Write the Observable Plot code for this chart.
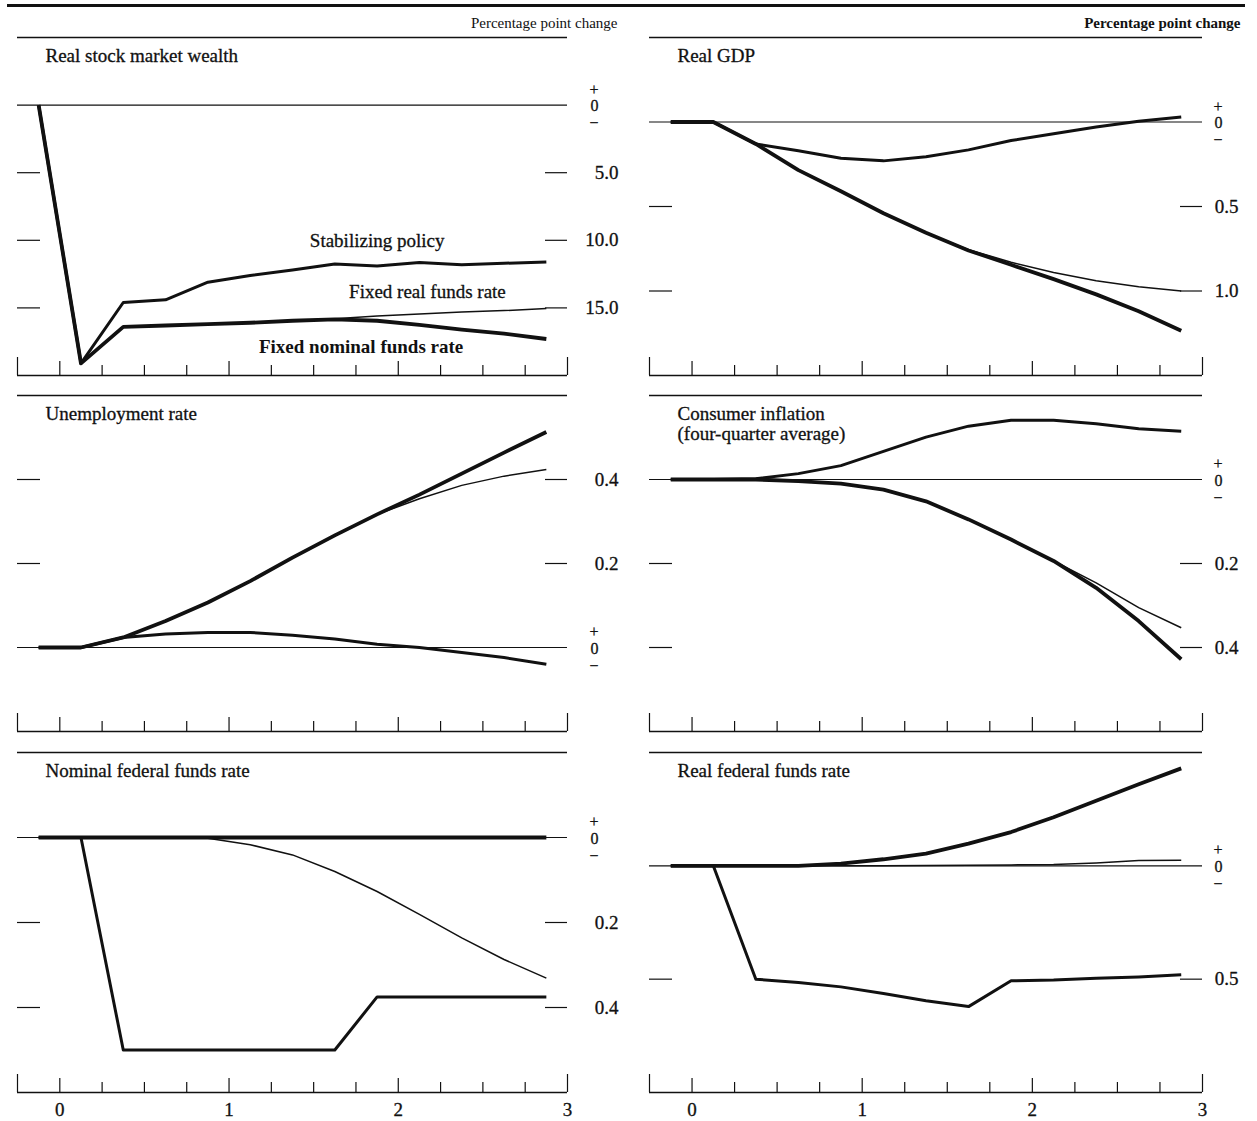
<!DOCTYPE html>
<html>
<head>
<meta charset="utf-8">
<script src="https://cdn.jsdelivr.net/npm/d3@7"></script>
<script src="https://cdn.jsdelivr.net/npm/@observablehq/plot@0.6"></script>
<style>
  html, body { margin: 0; padding: 0; background: #fff; }
  #chart { position: relative; width: 1257px; height: 1121px; background: #fff; overflow: hidden;
           font-family: "Liberation Serif", "Times New Roman", serif; }
  #chart .panel { position: absolute; }
  #chart svg { overflow: visible; display: block; }
  #toprule { position: absolute; left: 7px; top: 4px; width: 1238px; height: 3px; background: #111; }
</style>
</head>
<body>
<div id="chart"><div id="toprule"></div></div>
<script>
// ---------- data (years after shock, quarterly midpoints) ----------
const quarters = [-0.125, 0.125, 0.375, 0.625, 0.875, 1.125, 1.375, 1.625, 1.875, 2.125, 2.375, 2.625, 2.875];
const quarterTicks = [0.25, 0.5, 0.75, 1.25, 1.5, 1.75, 2.25, 2.5, 2.75];
const yearTicks = [0, 1, 2];
const endTicks = [-0.25, 3];
const yearLabels = [0, 1, 2, 3];
const seriesNames = ["Stabilizing policy", "Fixed real funds rate", "Fixed nominal funds rate"];

// Real stock market wealth
const stockStabilizing = [0, -19.1, -14.6, -14.4, -13.1, -12.6, -12.2, -11.75, -11.9, -11.65, -11.8, -11.7, -11.6];
const stockFixedReal   = [0, -19.1, -16.4, -16.3, -16.2, -16.1, -15.95, -15.8, -15.6, -15.45, -15.3, -15.2, -15.05];
const stockFixedNominal= [0, -19.1, -16.4, -16.3, -16.2, -16.1, -15.95, -15.85, -15.95, -16.25, -16.6, -16.9, -17.3];

// Real GDP
const gdpStabilizing = [0, 0, -0.13, -0.17, -0.215, -0.23, -0.205, -0.165, -0.11, -0.07, -0.03, 0.005, 0.03];
const gdpFixedReal   = [0, 0, -0.13, -0.285, -0.41, -0.54, -0.655, -0.755, -0.83, -0.89, -0.94, -0.975, -1.0];
const gdpFixedNominal= [0, 0, -0.13, -0.285, -0.41, -0.54, -0.655, -0.76, -0.845, -0.93, -1.02, -1.12, -1.235];

// Unemployment rate
const unempStabilizing = [0, 0, 0.024, 0.032, 0.036, 0.036, 0.029, 0.02, 0.008, 0, -0.012, -0.024, -0.04];
const unempFixedReal   = [0, 0, 0.024, 0.063, 0.107, 0.158, 0.214, 0.267, 0.317, 0.354, 0.386, 0.408, 0.424];
const unempFixedNominal= [0, 0, 0.024, 0.063, 0.107, 0.158, 0.214, 0.267, 0.317, 0.364, 0.414, 0.464, 0.513];

// Consumer inflation (four-quarter average)
const inflStabilizing = [0, 0, 0.002, 0.014, 0.033, 0.067, 0.101, 0.127, 0.141, 0.141, 0.133, 0.121, 0.115];
const inflFixedReal   = [0, 0, 0, -0.004, -0.01, -0.024, -0.052, -0.095, -0.143, -0.194, -0.246, -0.305, -0.353];
const inflFixedNominal= [0, 0, 0, -0.004, -0.01, -0.024, -0.052, -0.095, -0.143, -0.194, -0.258, -0.337, -0.428];

// Nominal federal funds rate
const nomffStabilizing = [0, 0, -0.5, -0.5, -0.5, -0.5, -0.5, -0.5, -0.375, -0.375, -0.375, -0.375, -0.375];
const nomffFixedReal   = [0, 0, 0, 0, -0.002, -0.017, -0.041, -0.08, -0.127, -0.181, -0.236, -0.287, -0.331];
const nomffFixedNominal= [0, 0, 0, 0, 0, 0, 0, 0, 0, 0, 0, 0, 0];

// Real federal funds rate
const realffStabilizing = [0, 0, -0.5, -0.515, -0.534, -0.563, -0.595, -0.621, -0.507, -0.504, -0.496, -0.49, -0.481];
const realffFixedReal   = [0, 0, 0, 0, 0, 0, 0.002, 0.003, 0.004, 0.006, 0.013, 0.023, 0.025];
const realffFixedNominal= [0, 0, 0, 0, 0.01, 0.029, 0.054, 0.098, 0.149, 0.214, 0.287, 0.36, 0.43];

// ---------- panel configuration ----------
const panels = [
  {title: "Real stock market wealth", row: 0, col: 0, domain: [-20, 5], ticks: [-5, -10, -15],
   series: [stockStabilizing, stockFixedReal, stockFixedNominal], annotate: true},
  {title: "Real GDP", row: 0, col: 1, domain: [-1.5, 0.5], ticks: [-0.5, -1.0],
   series: [gdpStabilizing, gdpFixedReal, gdpFixedNominal]},
  {title: "Unemployment rate", row: 1, col: 0, domain: [-0.2, 0.6], ticks: [0.2, 0.4],
   series: [unempStabilizing, unempFixedReal, unempFixedNominal]},
  {title: "Consumer inflation\n(four-quarter average)", row: 1, col: 1, domain: [-0.6, 0.2], ticks: [-0.2, -0.4],
   series: [inflStabilizing, inflFixedReal, inflFixedNominal]},
  {title: "Nominal federal funds rate", row: 2, col: 0, domain: [-0.6, 0.2], ticks: [-0.2, -0.4],
   series: [nomffStabilizing, nomffFixedReal, nomffFixedNominal]},
  {title: "Real federal funds rate", row: 2, col: 1, domain: [-1.0, 0.5], ticks: [-0.5],
   series: [realffStabilizing, realffFixedReal, realffFixedNominal]}
];

const rows = [
  {top: 0,   mt: 37, frame: 338, mb: 5},
  {top: 380, mt: 15, frame: 336, mb: 5},
  {top: 736, mt: 16, frame: 340, mb: 29}
];
const cols = [
  {left: 0,   width: 628, ml: 17, mr: 61, labelDx: 51, zeroDx: 31, unitDx: 50, unitWeight: "normal"},
  {left: 628, width: 629, ml: 21, mr: 55, labelDx: 36, zeroDx: 20, unitDx: 38, unitWeight: "bold"}
];

const ink = "#111";
const widths = [3.0, 1.5, 3.8];   // stabilizing, fixed real, fixed nominal
const fmt = d => Math.abs(d).toFixed(1);
const textInk = {fill: ink, stroke: ink, strokeWidth: 0.3};

const chart = document.getElementById("chart");

for (const p of panels) {
  const R = rows[p.row], C = cols[p.col];
  const fw = C.width - C.ml - C.mr;
  const fh = R.frame;
  const marks = [
    // panel top rule and bottom axis line
    Plot.ruleY([p.domain[1]], {stroke: ink, strokeWidth: 1.6}),
    Plot.ruleY([p.domain[0]], {stroke: ink, strokeWidth: 1.6}),
    // zero line
    Plot.ruleY([0], {stroke: ink, strokeWidth: 1.1}),
    // short y ticks, left and right
    Plot.ruleY(p.ticks, {stroke: ink, strokeWidth: 1.2, insetRight: fw - 23}),
    Plot.ruleY(p.ticks, {stroke: ink, strokeWidth: 1.2, insetLeft: fw - 22}),
    // x ticks pointing up from the bottom axis
    Plot.ruleX(quarterTicks, {stroke: ink, strokeWidth: 1.2, insetTop: fh - 10}),
    Plot.ruleX(yearTicks, {stroke: ink, strokeWidth: 1.2, insetTop: fh - 14}),
    Plot.ruleX(endTicks, {stroke: ink, strokeWidth: 1.2, insetTop: fh - 18}),
    // y tick labels on the right
    Plot.text(p.ticks, {y: d => d, text: fmt, frameAnchor: "right", dx: C.labelDx, textAnchor: "end", ...textInk}),
    // + 0 - marker at zero (one stacked text)
    Plot.text(["+\n0\n\u2212"], {y: () => 0, frameAnchor: "right", dx: C.zeroDx, dy: 1, fontSize: 16, lineHeight: 1.05,
      lineAnchor: "middle", ...textInk}),
    // panel title
    Plot.text([p.title], {frameAnchor: "top-left", dx: 28, dy: 10, textAnchor: "start", lineAnchor: "top",
      lineHeight: 1.05, ...textInk})
  ];
  // lines
  p.series.forEach((vals, k) => {
    marks.push(Plot.line(vals, {x: (d, i) => quarters[i], y: d => d, stroke: ink, strokeWidth: widths[k],
      strokeLinejoin: "round", strokeLinecap: "butt"}));
  });
  if (p.row === 0) {
    marks.push(Plot.text(["Percentage point change"], {frameAnchor: "top-right", dx: C.unitDx, dy: -10,
      textAnchor: "end", lineAnchor: "bottom", fontSize: 15, fontWeight: C.unitWeight, fill: ink}));
  }
  if (p.row === 2) {
    marks.push(Plot.text(yearLabels, {x: d => d, text: d => String(d), frameAnchor: "bottom", lineAnchor: "top",
      dy: 10, ...textInk}));
  }
  if (p.annotate) {
    const [s, r, n] = p.series;
    marks.push(Plot.text([seriesNames[0]], {x: () => quarters[8], y: () => s[8], dy: -25, ...textInk}));
    marks.push(Plot.text([seriesNames[1]], {x: () => quarters[9], y: () => r[9], dx: 8, dy: -22, ...textInk}));
    marks.push(Plot.text([seriesNames[2]], {x: () => quarters[8], y: () => n[8], dx: -16, dy: 26,
      fontWeight: "bold", fill: ink}));
  }

  const svg = Plot.plot({
    width: C.width,
    height: R.mt + R.frame + R.mb,
    marginTop: R.mt, marginBottom: R.mb, marginLeft: C.ml, marginRight: C.mr,
    x: {domain: [-0.25, 3], axis: null},
    y: {domain: p.domain, axis: null},
    style: {fontFamily: "'Liberation Serif', 'Times New Roman', serif", fontSize: "19px", background: "transparent", color: ink},
    marks
  });
  const wrap = document.createElement("div");
  wrap.className = "panel";
  wrap.style.left = C.left + "px";
  wrap.style.top = R.top + "px";
  wrap.appendChild(svg);
  chart.appendChild(wrap);
}
</script>
</body>
</html>
